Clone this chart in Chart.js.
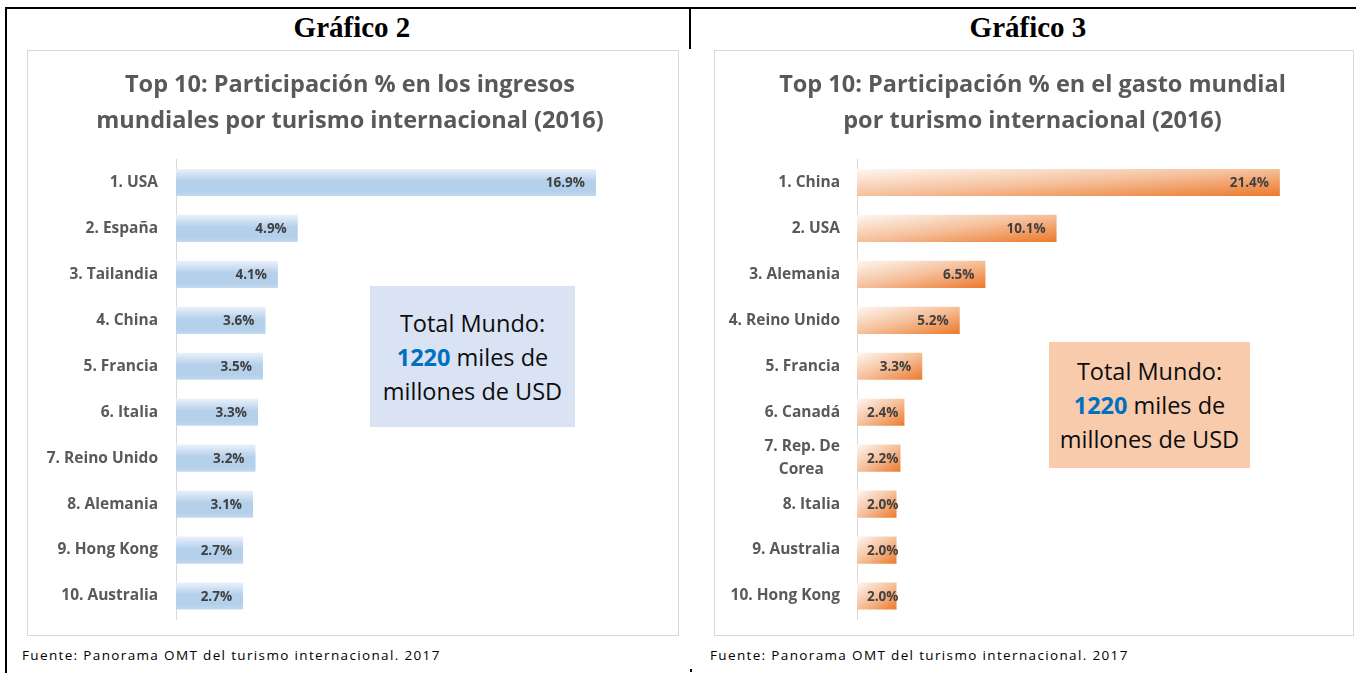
<!DOCTYPE html>
<html>
<head>
<meta charset="utf-8">
<script src="https://cdn.jsdelivr.net/npm/chart.js@4.4.1/dist/chart.umd.min.js"></script>
<style>
  body { margin: 0; width: 1356px; height: 673px; position: relative; background: #fff; overflow: hidden; font-family: "Open Sans", Lato, sans-serif; }
  .line { position: absolute; background: #000; }
  .header { position: absolute; top: 11px; height: 36px; line-height: 36px; width: 400px; text-align: center;
    font: bold 29px "Liberation Serif", "Times New Roman", serif; color: #000; }
  .box { position: absolute; border: 1px solid #d9d9d9; box-sizing: border-box; }
  canvas { position: absolute; }
  .note { position: absolute; display: flex; align-items: center; justify-content: center; text-align: center;
    font-size: 23.5px; line-height: 34px; color: #0d0d0d; }
  .note b { color: #0070c0; }
  .source { position: absolute; top: 646px; font-size: 13.5px; letter-spacing: 1.35px; color: #000; white-space: nowrap; }
</style>
</head>
<body>
  <div class="line" style="left:5px; top:7px; width:1351px; height:2px"></div>
  <div class="line" style="left:5px; top:7px; width:2px; height:666px"></div>
  <div class="line" style="left:689px; top:7px; width:2px; height:42px"></div>
  <div class="line" style="left:690px; top:669px; width:2px; height:3px"></div>

  <div class="header" style="left:152px">Gráfico 2</div>
  <div class="header" style="left:828px">Gráfico 3</div>

  <div class="box" style="left:27px; top:50px; width:652px; height:586px"></div>
  <canvas id="ingresos" width="652" height="586" style="left:27px; top:50px"></canvas>
  <div class="box" style="left:714px; top:50px; width:640px; height:586px"></div>
  <canvas id="gasto" width="640" height="586" style="left:714px; top:50px"></canvas>

  <div class="note" style="left:370px; top:286px; width:205px; height:141px; background:#dae3f3">
    <div>Total Mundo:<br><b>1220</b> miles de<br>millones de USD</div>
  </div>
  <div class="note" style="left:1049px; top:342px; width:201px; height:126px; background:#f8cbad">
    <div>Total Mundo:<br><b>1220</b> miles de<br>millones de USD</div>
  </div>

  <div class="source" style="left:22px">Fuente: Panorama OMT del turismo internacional. 2017</div>
  <div class="source" style="left:710px">Fuente: Panorama OMT del turismo internacional. 2017</div>

<script>
const ingresosLabels = ['1. USA', '2. España', '3. Tailandia', '4. China', '5. Francia', '6. Italia', '7. Reino Unido', '8. Alemania', '9. Hong Kong', '10. Australia']
const ingresosValues = [16.9, 4.9, 4.1, 3.6, 3.5, 3.3, 3.2, 3.1, 2.7, 2.7]
const ingresosTitle = ['Top 10: Participación % en los ingresos', 'mundiales por turismo internacional (2016)']

const gastoLabels = ['1. China', '2. USA', '3. Alemania', '4. Reino Unido', '5. Francia', '6. Canadá', ['7. Rep. De', 'Corea'], '8. Italia', '9. Australia', '10. Hong Kong']
const gastoValues = [21.4, 10.1, 6.5, 5.2, 3.3, 2.4, 2.2, 2.0, 2.0, 2.0]
const gastoTitle = ['Top 10: Participación % en el gasto mundial', 'por turismo internacional (2016)']

const FONT = '"Open Sans", Lato, sans-serif'
const TICK_SIZE = 15.5

// geometry of one bar, taken from the scales
function barBox(chart, index, value) {
  const xs = chart.scales.x, ys = chart.scales.y
  const band = ys.height / ys.ticks.length
  const thick = band * 0.59
  const yc = ys.getPixelForValue(index)
  return { x0: xs.getPixelForValue(0), x1: xs.getPixelForValue(value), top: yc - thick / 2, bottom: yc + thick / 2 }
}

function blueFill(c) {
  const chart = c.chart
  if (!chart.chartArea) return '#bdd7ee'
  const b = barBox(chart, c.dataIndex, c.raw)
  const g = chart.ctx.createLinearGradient(0, b.top, 0, b.bottom)
  g.addColorStop(0, '#eaf1fa')
  g.addColorStop(0.45, '#b5d0eb')
  g.addColorStop(0.8, '#b3cfea')
  g.addColorStop(1, '#c2d9ef')
  return g
}

function orangeFill(c) {
  const chart = c.chart
  if (!chart.chartArea) return '#f4b183'
  const b = barBox(chart, c.dataIndex, c.raw)
  const w = Math.max(b.x1 - b.x0, 1), h = b.bottom - b.top
  // diagonal gradient in the bar's own box (top-left light, bottom-right dark)
  const k = 2 / (1 / (w * w) + 1 / (h * h))
  const g = chart.ctx.createLinearGradient(b.x0, b.top, b.x0 + k / w, b.top + k / h)
  g.addColorStop(0, '#fef7f2')
  g.addColorStop(0.5, '#f5c09b')
  g.addColorStop(1, '#ec792c')
  return g
}

// value labels at the inside end of each bar
const valueLabels = {
  id: 'valueLabels',
  afterDatasetsDraw(chart) {
    const ctx = chart.ctx
    const meta = chart.getDatasetMeta(0)
    const values = chart.data.datasets[0].data
    ctx.save()
    ctx.font = 'bold 13.5px ' + FONT
    ctx.fillStyle = '#404040'
    ctx.textAlign = 'right'
    ctx.textBaseline = 'middle'
    meta.data.forEach((bar, i) => {
      const text = values[i].toFixed(1) + '%'
      const w = ctx.measureText(text).width
      const right = Math.max(bar.x - 11, bar.base + 10 + w)
      ctx.fillText(text, right, bar.y + 1)
    })
    ctx.restore()
  }
}

// centre the lines of a wrapped category label against each other
const measureCtx = document.createElement('canvas').getContext('2d')
function centredLines(label) {
  if (!Array.isArray(label)) return label
  measureCtx.font = 'bold ' + TICK_SIZE + 'px ' + FONT
  const widths = label.map(l => measureCtx.measureText(l).width)
  const max = Math.max(...widths)
  const space = measureCtx.measureText(' ').width
  return label.map((l, i) => l + ' '.repeat(Math.round((max - widths[i]) / 2 / space)))
}

function makeChart(id, labels, values, title, fill, opts) {
  return new Chart(document.getElementById(id), {
    type: 'bar',
    data: {
      labels: labels,
      datasets: [{
        data: values,
        backgroundColor: fill,
        borderWidth: 0,
        categoryPercentage: 1,
        barPercentage: 0.59
      }]
    },
    options: {
      indexAxis: 'y',
      responsive: false,
      animation: false,
      layout: { padding: { top: 18, bottom: 17, left: 0, right: opts.padRight } },
      plugins: {
        legend: { display: false },
        tooltip: { enabled: false },
        title: {
          display: true,
          text: title,
          color: '#595959',
          font: { family: FONT, size: 23.5, weight: 'bold', lineHeight: 1.5 },
          padding: { top: 0, bottom: 21 }
        }
      },
      scales: {
        x: { display: false, min: 0, max: opts.max },
        y: {
          afterFit: (scale) => {
            scale.width = opts.axisX
            scale.paddingTop = 0
            scale.paddingBottom = 0
          },
          grid: { display: false, drawTicks: false },
          border: { display: true, color: '#d9d9d9', width: 1 },
          ticks: {
            autoSkip: false,
            padding: opts.tickPad,
            color: '#595959',
            font: { family: FONT, size: TICK_SIZE, weight: 'bold', lineHeight: 1.45 },
            callback: function (value) { return centredLines(this.getLabelForValue(value)) }
          }
        }
      }
    },
    plugins: [valueLabels]
  })
}

makeChart('ingresos', ingresosLabels, ingresosValues, ingresosTitle, blueFill, { max: 20, padRight: 6, axisX: 149, tickPad: 18 })
makeChart('gasto', gastoLabels, gastoValues, gastoTitle, orangeFill, { max: 25, padRight: 3, axisX: 143, tickPad: 17 })
</script>
</body>
</html>
